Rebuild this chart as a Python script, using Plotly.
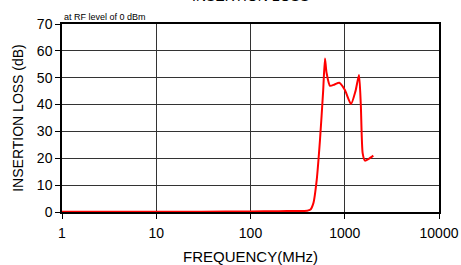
import plotly.graph_objects as go

freq_mhz = [1, 3, 10, 30, 100, 200, 300, 400, 430, 464, 504, 546, 590, 617, 640, 698, 780, 875, 1000, 1165, 1300, 1416, 1480, 1550, 1640, 1800, 2010]
loss_db = [0.1, 0.1, 0.1, 0.1, 0.2, 0.3, 0.4, 0.5, 0.8, 3.2, 11.9, 26.8, 45.0, 57.2, 52.0, 47.0, 47.5, 48.1, 45.5, 40.2, 45.0, 51.0, 40.0, 21.8, 19.1, 19.8, 21.0]

x_ticks = [1, 10, 100, 1000, 10000]
y_ticks = [0, 10, 20, 30, 40, 50, 60, 70]

fig = go.Figure()
fig.add_trace(go.Scatter(x=freq_mhz, y=loss_db, mode="lines",
                         line=dict(color="#ff0000", width=2, shape="spline", smoothing=0.6),
                         showlegend=False, hoverinfo="skip"))

font = "Liberation Sans, Arial, sans-serif"
fig.update_layout(
    width=461, height=265,
    margin=dict(l=62, r=22, t=24, b=53, autoexpand=False),
    paper_bgcolor="white", plot_bgcolor="white",
    font=dict(family=font, color="#000000", size=14),
    xaxis=dict(type="log", range=[0, 4], tickvals=x_ticks, ticktext=[str(v) for v in x_ticks],
               showgrid=True, gridcolor="#333333", gridwidth=1,
               showline=True, linecolor="#000", linewidth=1.5, mirror=True,
               ticks="outside", ticklen=5, tickcolor="#000", automargin=False,
               ticklabelstandoff=2,
               title=dict(text="FREQUENCY(MHz)", standoff=20, font=dict(size=15)),
               zeroline=False),
    yaxis=dict(range=[0, 70], tickvals=y_ticks, showgrid=True, gridcolor="#333333", gridwidth=1,
               showline=True, linecolor="#000", linewidth=1.5, mirror=True,
               ticks="outside", ticklen=5, tickcolor="#000", automargin=False,
               title=dict(text="INSERTION LOSS (dB)", standoff=10, font=dict(size=14)),
               zeroline=False),
    annotations=[
        dict(text="INSERTION LOSS", xref="paper", yref="paper", x=0.5, y=1.0,
             xanchor="center", yanchor="bottom", yshift=18, showarrow=False,
             font=dict(size=14, family=font, color="#000")),
        dict(text="at RF level of 0 dBm", xref="paper", yref="paper", x=0, y=1.0,
             xanchor="left", yanchor="bottom", showarrow=False,
             font=dict(size=9, family=font, color="#000"))],
)
fig.write_html("out.html", config={"displayModeBar": False},
               post_script="document.body.style.margin='0';document.body.style.overflow='hidden';")
